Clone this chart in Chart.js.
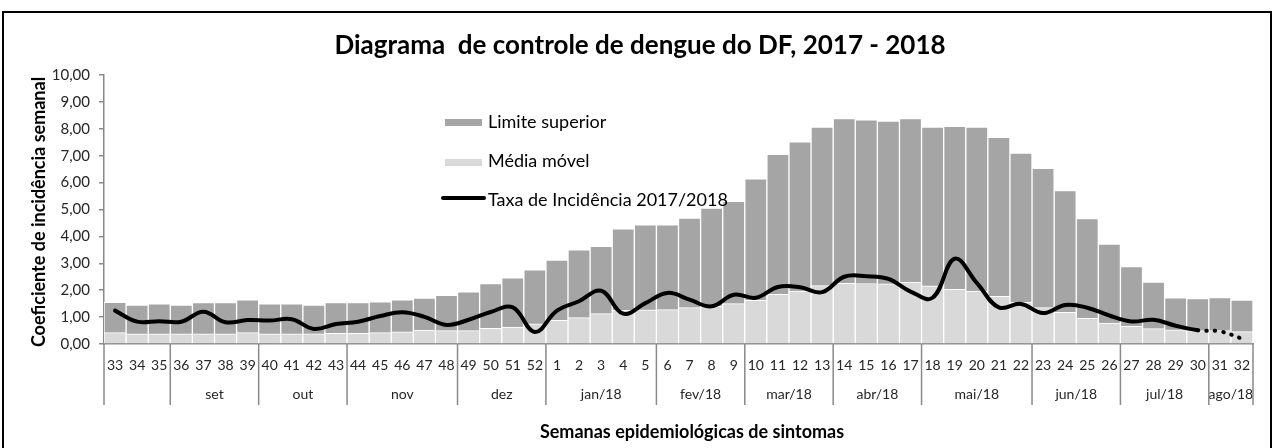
<!DOCTYPE html>
<html>
<head>
<meta charset="utf-8">
<script src="https://cdn.jsdelivr.net/npm/chart.js@4.4.1/dist/chart.umd.min.js"></script>
<style>
  html, body { margin: 0; padding: 0; background: #fff; }
</style>
</head>
<body>
<canvas id="chart" width="1274" height="448"></canvas>
<script>
// semanas epidemiológicas 33/2017 .. 32/2018
const WEEKS = [
  '33','34','35','36','37','38','39','40','41','42','43','44','45','46','47','48','49','50','51','52',
  '1','2','3','4','5','6','7','8','9','10','11','12','13','14','15','16','17','18','19','20',
  '21','22','23','24','25','26','27','28','29','30','31','32'
];
const LIMITE_SUPERIOR = [
  1.55, 1.45, 1.49, 1.45, 1.54, 1.54, 1.64, 1.49, 1.49, 1.45, 1.54, 1.54, 1.57, 1.64, 1.71, 1.81, 1.94, 2.25, 2.46, 2.76,
  3.12, 3.50, 3.63, 4.28, 4.43, 4.43, 4.68, 5.05, 5.30, 6.14, 7.05, 7.52, 8.06, 8.38, 8.33, 8.29, 8.38, 8.06, 8.09, 8.06,
  7.68, 7.10, 6.53, 5.70, 4.66, 3.71, 2.88, 2.30, 1.72, 1.69, 1.73, 1.63
];
const MEDIA_MOVEL = [
  0.42, 0.38, 0.38, 0.38, 0.38, 0.38, 0.42, 0.38, 0.38, 0.38, 0.40, 0.40, 0.42, 0.45, 0.52, 0.50, 0.50, 0.58, 0.63, 0.75,
  0.88, 0.98, 1.13, 1.25, 1.27, 1.28, 1.35, 1.40, 1.50, 1.62, 1.85, 1.97, 2.17, 2.26, 2.25, 2.24, 2.30, 2.16, 2.03, 1.97,
  1.77, 1.55, 1.35, 1.18, 0.95, 0.78, 0.66, 0.57, 0.53, 0.50, 0.50, 0.46
];
const TAXA_INCIDENCIA = [
  1.24, 0.83, 0.85, 0.83, 1.20, 0.81, 0.89, 0.87, 0.92, 0.56, 0.74, 0.83, 1.04, 1.18, 1.01, 0.71, 0.90, 1.19, 1.36, 0.45,
  1.24, 1.59, 1.98, 1.13, 1.52, 1.90, 1.65, 1.40, 1.83, 1.72, 2.12, 2.11, 1.93, 2.50, 2.52, 2.42, 1.95, 1.72, 3.17, 2.27,
  1.36, 1.49, 1.15, 1.45, 1.35, 1.06, 0.84, 0.90, 0.68, 0.51, 0.47, 0.20
];
// a partir da semana 30 a linha é pontilhada (dados parciais)
const DOTTED_FROM = 49;

const MONTH_LABELS = ['', 'set', 'out', 'nov', 'dez', 'jan/18', 'fev/18', 'mar/18', 'abr/18', 'mai/18', 'jun/18', 'jul/18', 'ago/18'];
const MONTH_SPANS  = [3, 4, 4, 5, 4, 5, 4, 4, 4, 5, 4, 4, 2];

const TITLE   = 'Diagrama  de controle de dengue do DF, 2017 - 2018';
const Y_TITLE = 'Coeficiente de incidência semanal';
const X_TITLE = 'Semanas epidemiológicas de sintomas';
const LEGEND  = ['Limite superior', 'Média móvel', 'Taxa de Incidência 2017/2018'];

const FONT = 'Lato, "Liberation Sans", sans-serif';
const DARK = '#a5a5a5', LIGHT = '#d9d9d9', AXIS = '#898989', INK = '#262626';

// moldura, títulos, linha de meses e legenda
const decor = {
  id: 'decor',
  afterDraw(chart) {
    const { ctx, chartArea: a, scales: { x } } = chart;
    ctx.save();
    ctx.strokeStyle = '#000'; ctx.lineWidth = 2;
    ctx.strokeRect(3, 12, 1268, 460);

    ctx.fillStyle = '#000';
    ctx.textAlign = 'center'; ctx.textBaseline = 'middle';
    ctx.font = 'bold 26px ' + FONT;
    ctx.fillText(TITLE, 640, 46);
    ctx.font = 'bold 18px ' + FONT;
    ctx.fillText(X_TITLE, 692, 432);
    ctx.save();
    ctx.translate(39, 212); ctx.rotate(-Math.PI / 2);
    ctx.fillText(Y_TITLE, 0, 0);
    ctx.restore();

    // separadores de mês + rótulos
    const step = (a.right - a.left) / WEEKS.length;
    ctx.strokeStyle = AXIS; ctx.lineWidth = 1.5;
    ctx.font = '14px ' + FONT; ctx.fillStyle = INK;
    let idx = 0;
    const edge = i => x.left + i * step;
    ctx.beginPath();
    ctx.moveTo(edge(0), a.bottom); ctx.lineTo(edge(0), 405);
    MONTH_SPANS.forEach((n, k) => {
      const x0 = edge(idx), x1 = edge(idx + n);
      ctx.moveTo(x1, a.bottom); ctx.lineTo(x1, 405);
      if (MONTH_LABELS[k]) ctx.fillText(MONTH_LABELS[k], (x0 + x1) / 2, 394);
      idx += n;
    });
    ctx.stroke();

    // legenda
    ctx.textAlign = 'left'; ctx.textBaseline = 'alphabetic';
    ctx.font = '18px ' + FONT;
    ctx.fillStyle = DARK; ctx.fillRect(445, 119, 37, 7);
    ctx.fillStyle = LIGHT; ctx.fillRect(445, 159, 37, 7);
    ctx.strokeStyle = '#000'; ctx.lineWidth = 4; ctx.lineCap = 'round';
    ctx.beginPath(); ctx.moveTo(443, 198); ctx.lineTo(484, 198); ctx.stroke();
    ctx.fillStyle = '#000';
    ctx.fillText(LEGEND[0], 488, 128);
    ctx.fillText(LEGEND[1], 488, 167);
    ctx.fillText(LEGEND[2], 488, 206);
    ctx.restore();
  }
};

new Chart(document.getElementById('chart'), {
  type: 'bar',
  data: {
    labels: WEEKS,
    datasets: [
      {
        type: 'line', label: LEGEND[2], data: TAXA_INCIDENCIA, order: 0,
        borderColor: '#000', borderWidth: 4, pointRadius: 0, tension: 0.4,
        borderCapStyle: 'round', borderJoinStyle: 'round',
        segment: { borderDash: c => c.p0DataIndex >= DOTTED_FROM ? [0.5, 8] : undefined },
      },
      {
        label: LEGEND[1], data: MEDIA_MOVEL, order: 1, grouped: false,
        backgroundColor: LIGHT, borderColor: '#fff', borderWidth: 1,
        barPercentage: 1, categoryPercentage: 1,
      },
      {
        label: LEGEND[0], data: LIMITE_SUPERIOR, order: 2, grouped: false,
        backgroundColor: DARK, borderColor: '#fff', borderWidth: 1,
        barPercentage: 1, categoryPercentage: 1,
      },
    ]
  },
  options: {
    responsive: false, animation: false, devicePixelRatio: 1,
    layout: { padding: { left: 0, right: 21, top: 75, bottom: 0 } },
    plugins: { legend: { display: false }, title: { display: false }, tooltip: { enabled: false } },
    scales: {
      x: {
        afterFit: s => { s.height = 104; },
        grid: { display: false, drawTicks: false },
        border: { display: true, color: AXIS, width: 1.5 },
        ticks: { autoSkip: false, maxRotation: 0, padding: 13, color: INK, font: { family: FONT, size: 14 } },
      },
      y: {
        min: 0, max: 10,
        afterFit: s => { s.width = 104; },
        grid: { drawOnChartArea: false, drawTicks: true, tickLength: 5, color: AXIS, lineWidth: 1.5 },
        border: { display: true, color: AXIS, width: 1.5 },
        ticks: {
          stepSize: 1, padding: 9, color: INK, font: { family: FONT, size: 15 },
          callback: v => v.toFixed(2).replace('.', ','),
        },
      }
    }
  },
  plugins: [decor]
});
</script>
</body>
</html>
